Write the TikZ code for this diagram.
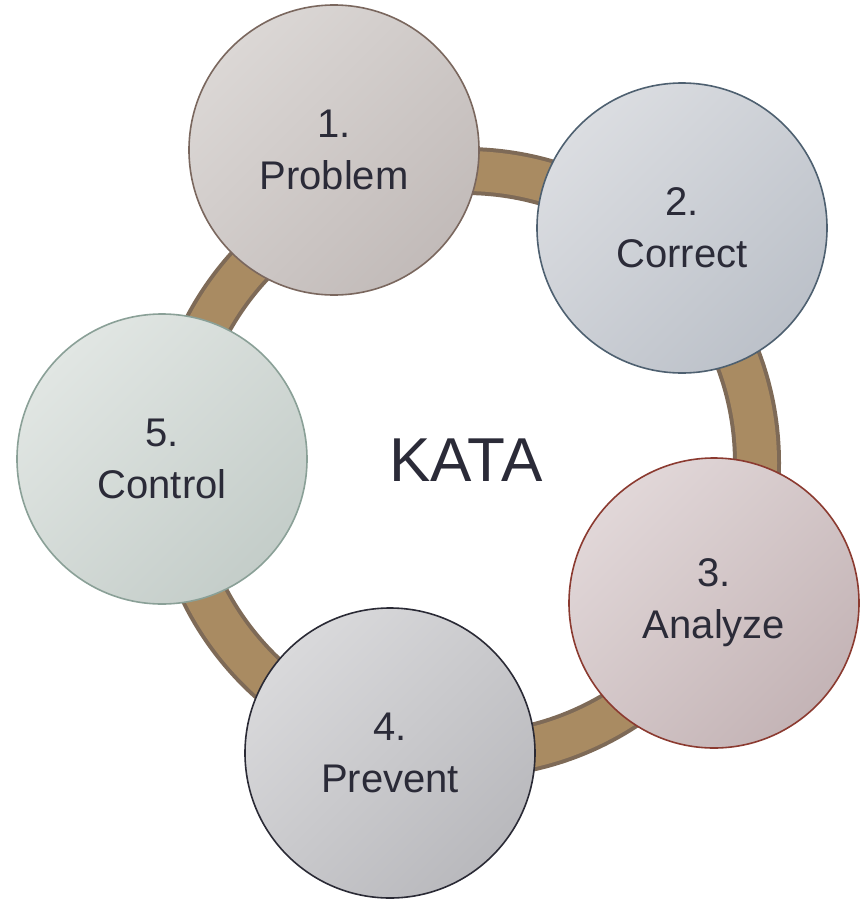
\documentclass[tikz,border=0pt]{standalone}
\usepackage{fontspec}
\setmainfont{Liberation Sans}
\begin{document}
\begin{tikzpicture}[x=1pt,y=-1pt,
  stage/.style={circle, minimum size=290pt, inner sep=0pt, line width=1.6pt,
    align=center, text=inkdark, font=\fontsize{40}{52}\selectfont},
  tilt/.style={shading=axis, shading angle=45},
  ringedge/.style={draw=ringdark, line width=48pt},
  ringbody/.style={draw=ringtan, line width=40pt}]
\definecolor{inkdark}{HTML}{2B2B38}
\definecolor{ringdark}{HTML}{7E6A57}
\definecolor{ringtan}{HTML}{A98B62}
\useasboundingbox (0,0) rectangle (861,900);

% ring joining the five stages
\coordinate (hub) at (465,463);
\path[ringedge] (hub) circle (292);
\path[ringbody] (hub) circle (292);

% the five stages (light top-left, darker bottom-right)
\node[stage, draw={rgb,255:red,122;green,103;blue,94},
  top color={rgb,255:red,219;green,215;blue,213}, bottom color={rgb,255:red,194;green,187;blue,185}, tilt]
  (c1) at (334,150) {1.\\Problem};
\node[stage, draw={rgb,255:red,78;green,96;blue,112},
  top color={rgb,255:red,219;green,221;blue,225}, bottom color={rgb,255:red,188;green,193;blue,201}, tilt]
  (c2) at (682,228) {2.\\Correct};
\node[stage, draw={rgb,255:red,139;green,58;blue,48},
  top color={rgb,255:red,225;green,215;blue,216}, bottom color={rgb,255:red,196;green,180;blue,182}, tilt]
  (c3) at (714,603) {3.\\Analyze};
\node[stage, draw={rgb,255:red,42;green,42;blue,53},
  top color={rgb,255:red,217;green,217;blue,219}, bottom color={rgb,255:red,185;green,185;blue,189}, tilt]
  (c4) at (390,753) {4.\\Prevent};
\node[stage, draw={rgb,255:red,138;green,160;blue,151},
  top color={rgb,255:red,225;green,230;blue,227}, bottom color={rgb,255:red,196;green,205;blue,201}, tilt]
  (c5) at (162,459) {5.\\Control};

% centre title
\node[text=inkdark, font=\fontsize{62}{70}\selectfont] (kata) at (466,460) {KATA};
\end{tikzpicture}
\end{document}
